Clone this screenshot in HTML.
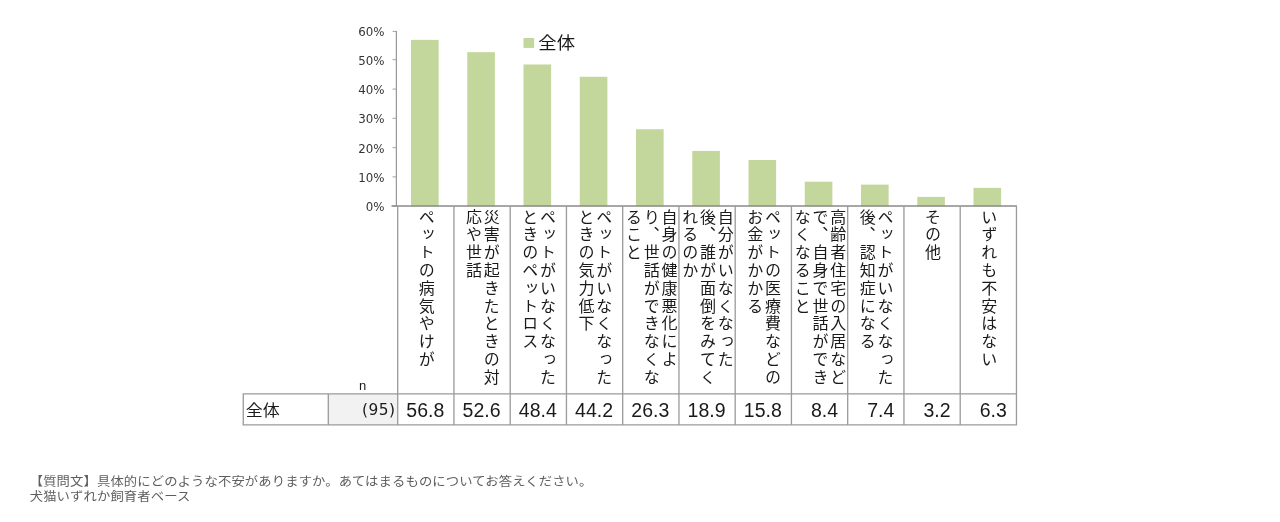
<!DOCTYPE html>
<html lang="ja">
<head>
<meta charset="utf-8">
<title>chart</title>
<style>
html,body{margin:0;padding:0;background:#fff;}
body{width:1280px;height:522px;position:relative;overflow:hidden;font-family:"Liberation Sans","Noto Sans CJK JP",sans-serif;color:#1a1a1a;}
.abs{position:absolute;}
.ylab{position:absolute;left:330px;width:54.5px;text-align:right;font-size:11.8px;line-height:14px;color:#333;font-family:"DejaVu Sans","Liberation Sans",sans-serif;}
.vt{position:absolute;top:208.9px;height:187px;display:flex;justify-content:center;align-items:flex-start;}
.vt>div{writing-mode:vertical-rl;font-family:"Liberation Sans","Noto Sans CJK JP",sans-serif;font-size:16px;line-height:17.8px;letter-spacing:2.57px;transform:scaleY(0.96);transform-origin:50% 0;color:#1a1a1a;white-space:nowrap;}
.num{position:absolute;top:394.8px;height:31px;line-height:31px;text-align:right;font-size:19.5px;color:#1a1a1a;font-family:"Liberation Sans",sans-serif;}
.foot{position:absolute;left:29.7px;font-size:13.33px;letter-spacing:0.12px;line-height:15.2px;color:#5e5e5e;transform:scaleY(0.93);transform-origin:0 90%;white-space:nowrap;font-family:"Liberation Sans","Noto Sans CJK JP",sans-serif;}
</style>
</head>
<body>

<svg class="abs" style="left:0;top:0" width="1280" height="522" viewBox="0 0 1280 522">
<rect x="411.02" y="39.88" width="27.6" height="166.42" fill="#c3d69b"/>
<rect x="467.27" y="52.18" width="27.6" height="154.12" fill="#c3d69b"/>
<rect x="523.52" y="64.49" width="27.6" height="141.81" fill="#c3d69b"/>
<rect x="579.77" y="76.79" width="27.6" height="129.51" fill="#c3d69b"/>
<rect x="636.02" y="129.24" width="27.6" height="77.06" fill="#c3d69b"/>
<rect x="692.27" y="150.92" width="27.6" height="55.38" fill="#c3d69b"/>
<rect x="748.52" y="160.01" width="27.6" height="46.29" fill="#c3d69b"/>
<rect x="804.77" y="181.69" width="27.6" height="24.61" fill="#c3d69b"/>
<rect x="861.02" y="184.62" width="27.6" height="21.68" fill="#c3d69b"/>
<rect x="917.27" y="196.92" width="27.6" height="9.38" fill="#c3d69b"/>
<rect x="973.52" y="187.84" width="27.6" height="18.46" fill="#c3d69b"/>
<rect x="523.5" y="38" width="10.6" height="9.9" fill="#c3d69b"/>
<rect x="328.8" y="394" width="68.5" height="30.8" fill="#f2f2f2"/>
<path d="M396.35 30.9 V206" stroke="#8e8e8e" stroke-width="1.1" fill="none"/>
<path d="M392.6 206.00 H396.3 M392.6 176.90 H396.3 M392.6 147.70 H396.3 M392.6 118.30 H396.3 M392.6 89.10 H396.3 M392.6 59.70 H396.3 M392.6 31.40 H396.3 " stroke="#a0a0a0" stroke-width="1" fill="none"/>
<path d="M391.5 206.05 H1016.9" stroke="#8a8a8a" stroke-width="1.6" fill="none"/>
<path d="M397.70 206.3 V425.5 M453.95 206.3 V425.5 M510.20 206.3 V425.5 M566.45 206.3 V425.5 M622.70 206.3 V425.5 M678.95 206.3 V425.5 M735.20 206.3 V425.5 M791.45 206.3 V425.5 M847.70 206.3 V425.5 M903.95 206.3 V425.5 M960.20 206.3 V425.5 M1016.45 206.3 V425.5 M242.6 393.85 H1016.85 M242.6 424.9 H1016.85 M243.25 393.2 V425.5 M328.3 393.2 V425.5" stroke="#9a9a9a" stroke-width="1.3" fill="none"/>
</svg>
<div class="abs" style="left:538.3px;top:31.9px;font-size:18.4px;line-height:24px;color:#1a1a1a;transform:scaleY(0.9);transform-origin:0 50%">全体</div>
<div class="ylab" style="top:199.80px">0%</div>
<div class="ylab" style="top:170.70px">10%</div>
<div class="ylab" style="top:141.50px">20%</div>
<div class="ylab" style="top:112.10px">30%</div>
<div class="ylab" style="top:82.90px">40%</div>
<div class="ylab" style="top:53.50px">50%</div>
<div class="ylab" style="top:25.20px">60%</div>
<div class="abs" style="left:245.8px;top:399.1px;font-size:17px;line-height:24px;transform:scaleY(0.91);transform-origin:0 50%">全体</div>
<div class="num" style="left:329px;width:66.6px;font-size:15.4px;letter-spacing:0.5px;margin-top:0.6px;font-family:'DejaVu Sans','Liberation Sans',sans-serif">(95)</div>
<div class="abs" style="left:357.7px;top:378.6px;width:10px;text-align:center;font-size:13px;line-height:14px;font-family:'Liberation Sans',sans-serif">n</div>
<div class="vt" style="left:396.70px;width:56.25px;"><div>ペットの病気やけが</div></div>
<div class="vt" style="left:452.95px;width:56.25px;"><div>災害が起きたときの対<br>応や世話</div></div>
<div class="vt" style="left:509.20px;width:56.25px;"><div>ペットがいなくなった<br>ときのペットロス</div></div>
<div class="vt" style="left:565.45px;width:56.25px;"><div>ペットがいなくなった<br>ときの気力低下</div></div>
<div class="vt" style="left:621.70px;width:56.25px;"><div>自身の健康悪化によ<br>り、世話ができなくな<br>ること</div></div>
<div class="vt" style="left:677.95px;width:56.25px;"><div>自分がいなくなった<br>後、誰が面倒をみてく<br>れるのか</div></div>
<div class="vt" style="left:734.20px;width:56.25px;"><div>ペットの医療費などの<br>お金がかかる</div></div>
<div class="vt" style="left:790.45px;width:56.25px;"><div>高齢者住宅の入居など<br>で、自身で世話ができ<br>なくなること</div></div>
<div class="vt" style="left:846.70px;width:56.25px;"><div>ペットがいなくなった<br>後、認知症になる</div></div>
<div class="vt" style="left:902.95px;width:56.25px;"><div>その他</div></div>
<div class="vt" style="left:959.20px;width:56.25px;"><div>いずれも不安はない</div></div>
<div class="num" style="left:397.50px;width:46.75px">56.8</div>
<div class="num" style="left:453.75px;width:46.75px">52.6</div>
<div class="num" style="left:510.00px;width:46.75px">48.4</div>
<div class="num" style="left:566.25px;width:46.75px">44.2</div>
<div class="num" style="left:622.50px;width:46.75px">26.3</div>
<div class="num" style="left:678.75px;width:46.75px">18.9</div>
<div class="num" style="left:735.00px;width:46.75px">15.8</div>
<div class="num" style="left:791.25px;width:46.75px">8.4</div>
<div class="num" style="left:847.50px;width:46.75px">7.4</div>
<div class="num" style="left:903.75px;width:46.75px">3.2</div>
<div class="num" style="left:960.00px;width:46.75px">6.3</div>
<div class="foot" style="top:473.5px">【質問文】具体的にどのような不安がありますか。あてはまるものについてお答えください。</div>
<div class="foot" style="top:489.4px">犬猫いずれか飼育者ベース</div>
</body>
</html>
